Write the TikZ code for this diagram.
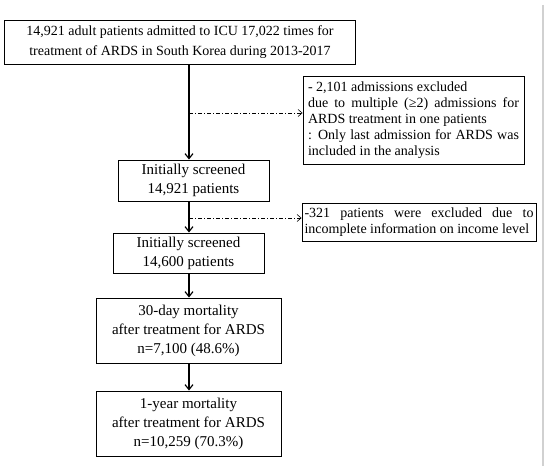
\documentclass[tikz,border=0pt]{standalone}
\usepackage{fontspec}
\setmainfont{Liberation Serif}
\usetikzlibrary{arrows.meta}

\begin{document}
\begin{tikzpicture}[
		x=1pt, y=-1pt,
		box/.style={draw, line width=0.9pt, inner sep=0pt, align=center,
			font=\fontsize{15}{19}\selectfont},
		side/.style={draw, line width=0.9pt, inner sep=0pt, align=justify,
			font=\fontsize{14}{16}\selectfont},
		flow/.style={line width=1.4pt, -{Straight Barb[length=5pt,width=8pt,line width=1.2pt]}},
		excl/.style={line width=0.5pt, dash pattern=on 4pt off 2pt on 1pt off 2pt,
			-{Straight Barb[length=4pt,width=7pt,line width=0.6pt]}}
		]
		\useasboundingbox (0,0) rectangle (550,473);
		% frame line at the right
		\draw[line width=1.6pt, black!18] (543,5) -- (543,466);
		\coordinate (spine) at (189,0);
		% main boxes
		\node[box, font=\fontsize{14}{20.5}\selectfont, minimum width=351pt, minimum height=44pt] (admit) at (180,42)
			{14,921 adult patients admitted to ICU 17,022 times for\\
			 treatment of ARDS in South Korea during 2013-2017};
		\node[box, minimum width=151pt, minimum height=41pt] (screenA) at (193.5,180.5)
			{Initially screened\\ 14,921 patients};
		\node[box, minimum width=151pt, minimum height=40pt] (screenB) at (188.5,253)
			{Initially screened\\ 14,600 patients};
		\node[box, minimum width=185pt, minimum height=65pt] (month) at (188.5,330.5)
			{30-day mortality\\ after treatment for ARDS\\ n=7,100 (48.6\%)};
		\node[box, minimum width=185pt, minimum height=65pt] (year) at (188.5,423.5)
			{1-year mortality\\ after treatment for ARDS\\ n=10,259 (70.3\%)};
		% exclusion boxes
		\node[side, text width=211pt, minimum height=88pt, inner xsep=5pt] (multi) at (413.5,120)
			{- 2,101 admissions excluded\newline
			 due to multiple (≥2) admissions for\linebreak
			 ARDS treatment in one patients\newline
			 : Only last admission for ARDS was\linebreak
			 included in the analysis};
		\node[side, text width=229pt, minimum height=38pt, inner xsep=2.5pt] (income) at (419,222)
			{-321 patients were excluded due to\linebreak
			 incomplete information on income level};
		% connectors
		\draw[flow] (admit.south -| spine) -- (screenA.north -| spine);
		\draw[flow] (screenA.south -| spine) -- (screenB.north -| spine);
		\draw[flow] (screenB.south -| spine) -- (month.north -| spine);
		\draw[flow] (month.south -| spine) -- (year.north -| spine);
		\coordinate (splitA) at (189,113);
		\coordinate (splitB) at (189,218);
		\draw[excl] (splitA) -- (splitA -| multi.west);
		\draw[excl] (splitB) -- (splitB -| income.west);
\end{tikzpicture}
\end{document}
